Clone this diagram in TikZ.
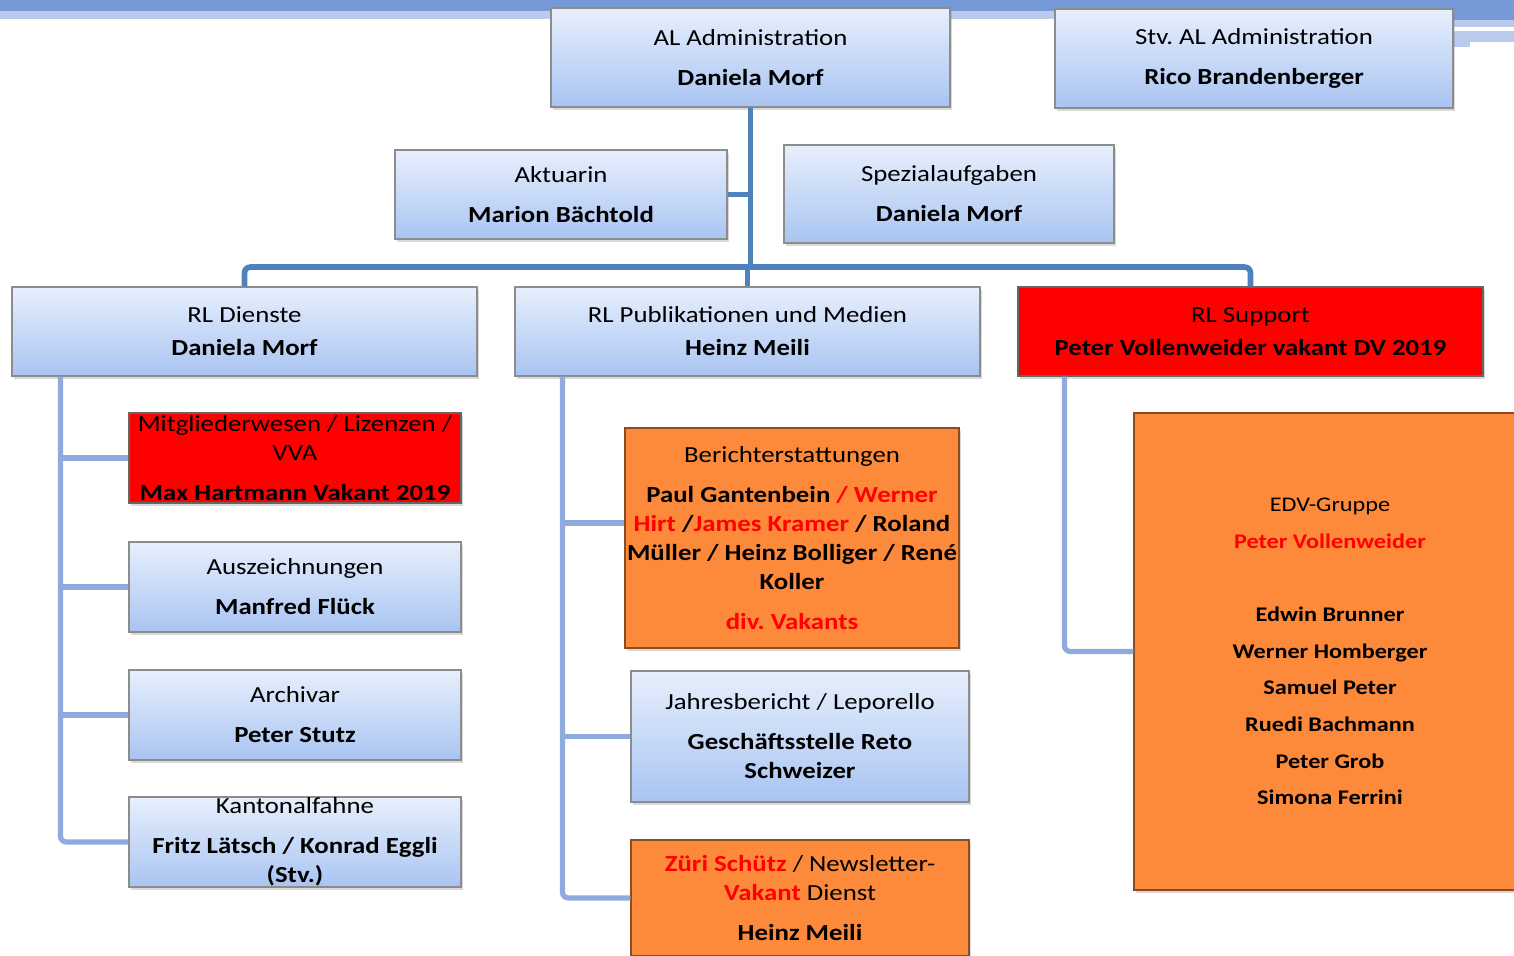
\documentclass[tikz,border=0pt]{standalone}
\usepackage{fontspec}
\setmainfont{Carlito}[FakeStretch=1.165]
\usetikzlibrary{positioning, shadows, calc}
\frenchspacing

\definecolor{hdrdark}{HTML}{7699D8}
\definecolor{hdrlight}{HTML}{B9CAEC}
\definecolor{trunkblue}{HTML}{4F81BD}
\definecolor{childblue}{HTML}{8FAADC}
\definecolor{boxtop}{HTML}{E7EFFC}
\definecolor{boxbottom}{HTML}{A9C4F2}
\definecolor{vakant}{HTML}{FF0000}
\definecolor{edvorange}{HTML}{FD8A3A}

\newcommand{\vak}[1]{\textcolor{vakant}{#1}}

\tikzset{
  boxbase/.style={draw=black!45, line width=0.6pt, align=center, inner sep=0pt,
    font=\fontsize{11.5}{14.5}\selectfont,
    drop shadow={shadow xshift=1.2pt, shadow yshift=-1.6pt, opacity=0.3}},
  bluebox/.style={boxbase, top color=boxtop, bottom color=boxbottom},
  redbox/.style={boxbase, fill=vakant, draw=black!60},
  orangebox/.style={boxbase, fill=edvorange, draw=black!45!edvorange},
  trunk/.style={draw=trunkblue, line width=2.8pt, rounded corners=3pt},
  child/.style={draw=childblue, line width=2.6pt, rounded corners=3pt},
}

\begin{document}
\begin{tikzpicture}[x=0.5pt, y=-0.5pt]
  \useasboundingbox (0,0) rectangle (1514,955);
  \clip (0,0) rectangle (1514,955);
  % header band
  \fill[hdrdark] (0,0) rectangle (1514,11);
  \fill[hdrlight] (0,11) rectangle (1514,19);
  \fill[hdrdark] (1453,0) rectangle (1514,20);
  \fill[hdrlight] (1453,20) rectangle (1514,27);
  \fill[hdrlight] (1453,31) rectangle (1514,42);
  \fill[hdrlight] (1453,42) rectangle (1470,47);

  % top level
  \node[bluebox, minimum width=199.5pt, minimum height=49.5pt] (al) at (750.5,57.5)
    {AL Administration\\[5.5pt]\textbf{Daniela Morf}};
  \node[bluebox, minimum width=199pt, minimum height=49.5pt] (stv) at (1254,58.5)
    {Stv. AL Administration\\[5.5pt]\textbf{Rico Brandenberger}};
  \node[bluebox, minimum width=166pt, minimum height=44.5pt] (akt) at (561,194.5)
    {Aktuarin\\[5.5pt]\textbf{Marion Bächtold}};
  \node[bluebox, minimum width=165pt, minimum height=49pt] (spez) at (949,194)
    {Spezialaufgaben\\[5.5pt]\textbf{Daniela Morf}};

  % Ressorts
  \node[bluebox, minimum width=232.5pt, minimum height=44.5pt] (dienste) at (244.5,331.5)
    {RL Dienste\\[2pt]\textbf{Daniela Morf}};
  \node[bluebox, minimum width=232.5pt, minimum height=44.5pt] (publ) at (747.5,331.5)
    {RL Publikationen und Medien\\[2pt]\textbf{Heinz Meili}};
  \node[redbox, minimum width=232.5pt, minimum height=44.5pt] (support) at (1250.5,331.5)
    {RL Support\\[2pt]\textbf{Peter Vollenweider vakant DV 2019}};

  % RL Dienste
  \node[redbox, minimum width=166pt, minimum height=45pt] (mitglied) at (295,458)
    {Mitgliederwesen / Lizenzen /\\VVA\\[5.5pt]\textbf{Max Hartmann Vakant 2019}};
  \node[bluebox, minimum width=166pt, minimum height=45pt] (ausz) at (295,587)
    {Auszeichnungen\\[5.5pt]\textbf{Manfred Flück}};
  \node[bluebox, minimum width=166pt, minimum height=45pt] (archiv) at (295,715)
    {Archivar\\[5.5pt]\textbf{Peter Stutz}};
  \node[bluebox, minimum width=166pt, minimum height=45pt] (kanton) at (295,842)
    {Kantonalfahne\\[5.5pt]\textbf{Fritz Lätsch / Konrad Eggli}\\\textbf{(Stv.)}};

  % RL Publikationen
  \node[orangebox, minimum width=167pt, minimum height=110pt] (berichte) at (792,538)
    {Berichterstattungen\\[5.5pt]
     \textbf{Paul Gantenbein \vak{/ Werner}}\\
     \textbf{\vak{Hirt} /\vak{James Kramer} / Roland}\\
     \textbf{Müller / Heinz Bolliger / René}\\
     \textbf{Koller}\\[5.5pt]
     \textbf{\vak{div. Vakants}}};
  \node[bluebox, minimum width=169pt, minimum height=65.5pt] (jahres) at (800,736.5)
    {Jahresbericht / Leporello\\[5.5pt]\textbf{Geschäftsstelle Reto}\\\textbf{Schweizer}};
  \node[orangebox, minimum width=169pt, minimum height=58pt] (zueri) at (800,898)
    {\textbf{\vak{Züri Schütz}} / Newsletter-\\\textbf{\vak{Vakant}} Dienst\\[5.5pt]\textbf{Heinz Meili}};

  % RL Support
  \node[orangebox, minimum width=196pt, minimum height=238.5pt,
        font=\fontsize{10.4}{14.5}\selectfont] (edv) at (1330,651.5)
    {EDV-Gruppe\\[4pt]\textbf{\vak{Peter Vollenweider}}\\[22pt]
     \textbf{Edwin Brunner}\\[3.8pt]\textbf{Werner Homberger}\\[3.8pt]
     \textbf{Samuel Peter}\\[3.8pt]\textbf{Ruedi Bachmann}\\[3.8pt]
     \textbf{Peter Grob}\\[3.8pt]\textbf{Simona Ferrini}};

  % connectors
  \coordinate (bar) at (751,267);
  \draw[trunk] (al.south) -- (al.south |- bar);
  \draw[trunk] (akt.east) -- (akt.east -| al.south);
  \draw[trunk] (dienste.north) |- (bar) -| (support.north);
  \draw[trunk] (publ.north) -- (publ.north |- bar);

  \coordinate (dl) at ($(dienste.south west)+(49,0)$);
  \draw[child] (dl) |- (kanton.west);
  \foreach \n in {mitglied, ausz, archiv}
    \draw[child] (dl |- \n.west) -- (\n.west);

  \coordinate (pl) at ($(publ.south west)+(48,0)$);
  \coordinate (bfix) at ([yshift=7.5pt]berichte.west);
  \draw[child] (pl) |- (zueri.west);
  \draw[child] (pl |- jahres.west) -- (jahres.west);
  \draw[child] (pl |- bfix) -- (bfix);

  \coordinate (sl) at ($(support.south west)+(47,0)$);
  \draw[child] (sl) |- (edv.west);
\end{tikzpicture}
\end{document}
